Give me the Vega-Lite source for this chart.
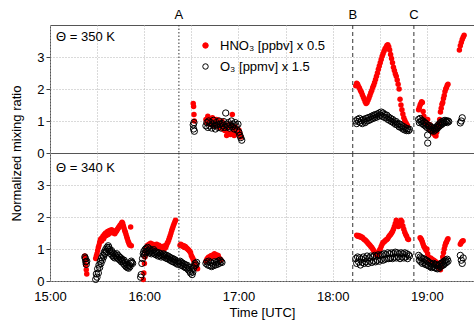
{
"$schema":"https://vega.github.io/schema/vega-lite/v6.json",
"padding":{"left":9,"top":8,"right":0,"bottom":0},
"bounds":"flush",
"spacing":0,
"config":{
 "font":"Liberation Sans",
 "view":{"stroke":"#555","strokeWidth":1},
 "axis":{"labelFontSize":13,"labelColor":"#000","titleFontSize":13,"titleFontWeight":"normal","titleColor":"#000","gridColor":"#b4b4b4","gridDash":[1,2],"domain":false,"tickColor":"#444","labelFlush":false,"labelOverlap":false},
 "text":{"font":"Liberation Sans","fontSize":13,"color":"#000"}
},
"datasets":{
"events":[{"t":16.368,"label":"A"},{"t":18.213,"label":"B"},{"t":18.862,"label":"C"}],
"top":[
{"t":16.520,"hno3":1.55,"o3":0.88},{"t":16.524,"hno3":1.45,"o3":0.75},{"t":16.528,"hno3":1.20,"o3":0.95},{"t":16.532,"hno3":1.00,"o3":0.68},
{"t":16.655,"hno3":1.05,"o3":0.85},{"t":16.665,"hno3":0.95,"o3":0.95},{"t":16.675,"hno3":1.15,"o3":0.80},{"t":16.685,"hno3":1.00,"o3":1.00},
{"t":16.695,"hno3":0.90,"o3":0.85},{"t":16.705,"hno3":1.05,"o3":0.95},{"t":16.715,"hno3":0.95,"o3":0.78},{"t":16.725,"hno3":1.10,"o3":0.90},
{"t":16.735,"hno3":0.85,"o3":1.02},{"t":16.745,"hno3":1.00,"o3":0.85},{"t":16.755,"hno3":0.92,"o3":0.75},{"t":16.765,"hno3":1.05,"o3":0.95},
{"t":16.775,"hno3":0.88,"o3":0.88},{"t":16.785,"hno3":1.02,"o3":0.80},{"t":16.795,"hno3":0.80,"o3":1.00},{"t":16.805,"hno3":0.95,"o3":0.90},
{"t":16.815,"hno3":0.85,"o3":0.78},{"t":16.825,"hno3":1.00,"o3":0.92},{"t":16.835,"hno3":0.75,"o3":0.85},{"t":16.845,"hno3":0.90,"o3":0.98},
{"t":16.855,"hno3":0.70,"o3":0.80},{"t":16.865,"hno3":0.85,"o3":1.25},{"t":16.875,"hno3":0.55,"o3":0.90},{"t":16.885,"hno3":0.80,"o3":0.82},
{"t":16.895,"hno3":0.62,"o3":0.95},{"t":16.905,"hno3":0.90,"o3":0.78},{"t":16.915,"hno3":0.58,"o3":0.88},{"t":16.925,"hno3":0.85,"o3":1.00},
{"t":16.935,"hno3":1.20,"o3":0.82},{"t":16.945,"hno3":0.70,"o3":0.90},{"t":16.955,"hno3":0.55,"o3":0.75},{"t":16.965,"hno3":0.82,"o3":0.95},
{"t":16.975,"hno3":0.65,"o3":0.85},{"t":16.985,"hno3":0.75,"o3":0.72},{"t":16.995,"hno3":0.60,"o3":0.90},{"t":17.005,"hno3":0.72,"o3":0.65},
{"t":17.015,"hno3":0.62,"o3":0.55},{"t":17.025,"hno3":0.50,"o3":0.48},{"t":17.035,"hno3":null,"o3":0.40},
{"t":18.245,"hno3":2.10,"o3":1.00},{"t":18.255,"hno3":2.18,"o3":0.92},{"t":18.265,"hno3":2.15,"o3":1.05},{"t":18.275,"hno3":2.08,"o3":0.98},
{"t":18.285,"hno3":2.02,"o3":1.08},{"t":18.295,"hno3":1.95,"o3":0.95},{"t":18.305,"hno3":1.90,"o3":1.02},{"t":18.315,"hno3":1.82,"o3":0.92},
{"t":18.325,"hno3":1.75,"o3":1.05},{"t":18.335,"hno3":1.68,"o3":1.00},{"t":18.345,"hno3":1.60,"o3":0.95},{"t":18.355,"hno3":1.55,"o3":1.08},
{"t":18.365,"hno3":1.58,"o3":1.00},{"t":18.375,"hno3":1.65,"o3":1.10},{"t":18.385,"hno3":1.72,"o3":1.02},{"t":18.395,"hno3":1.80,"o3":1.12},
{"t":18.405,"hno3":1.88,"o3":1.05},{"t":18.415,"hno3":1.95,"o3":1.15},{"t":18.425,"hno3":2.05,"o3":1.08},{"t":18.435,"hno3":2.12,"o3":1.18},
{"t":18.445,"hno3":2.20,"o3":1.10},{"t":18.455,"hno3":2.30,"o3":1.20},{"t":18.465,"hno3":2.40,"o3":1.12},{"t":18.475,"hno3":2.50,"o3":1.22},
{"t":18.485,"hno3":2.62,"o3":1.15},{"t":18.495,"hno3":2.72,"o3":1.25},{"t":18.505,"hno3":2.82,"o3":1.18},{"t":18.515,"hno3":2.92,"o3":1.28},
{"t":18.525,"hno3":3.02,"o3":1.15},{"t":18.535,"hno3":3.10,"o3":1.25},{"t":18.545,"hno3":3.18,"o3":1.12},{"t":18.555,"hno3":3.25,"o3":1.20},
{"t":18.565,"hno3":3.30,"o3":1.10},{"t":18.575,"hno3":3.36,"o3":1.18},{"t":18.585,"hno3":3.38,"o3":1.05},{"t":18.595,"hno3":3.32,"o3":1.12},
{"t":18.605,"hno3":3.22,"o3":1.02},{"t":18.615,"hno3":3.08,"o3":1.08},{"t":18.625,"hno3":2.95,"o3":0.98},{"t":18.635,"hno3":2.82,"o3":1.05},
{"t":18.645,"hno3":2.68,"o3":0.95},{"t":18.655,"hno3":2.58,"o3":1.00},{"t":18.665,"hno3":2.48,"o3":0.90},{"t":18.675,"hno3":2.40,"o3":0.98},
{"t":18.685,"hno3":2.28,"o3":0.88},{"t":18.695,"hno3":2.15,"o3":0.92},{"t":18.705,"hno3":2.00,"o3":0.82},{"t":18.715,"hno3":1.68,"o3":0.90},
{"t":18.725,"hno3":1.50,"o3":0.80},{"t":18.735,"hno3":1.35,"o3":0.85},{"t":18.745,"hno3":1.22,"o3":0.75},{"t":18.755,"hno3":1.10,"o3":0.82},
{"t":18.765,"hno3":1.02,"o3":0.72},{"t":18.775,"hno3":0.95,"o3":0.78},{"t":18.785,"hno3":0.90,"o3":0.70},{"t":18.795,"hno3":0.85,"o3":0.76},
{"t":18.805,"hno3":null,"o3":0.70},{"t":18.815,"hno3":null,"o3":0.74},
{"t":18.912,"hno3":1.35,"o3":1.05},{"t":18.920,"hno3":1.42,"o3":0.95},{"t":18.928,"hno3":1.50,"o3":1.08},{"t":18.936,"hno3":1.55,"o3":0.98},
{"t":18.944,"hno3":1.60,"o3":1.02},{"t":18.952,"hno3":1.58,"o3":0.92},{"t":18.960,"hno3":1.30,"o3":1.00},{"t":18.968,"hno3":1.15,"o3":0.88},
{"t":18.976,"hno3":1.05,"o3":0.95},{"t":18.984,"hno3":0.95,"o3":0.85},{"t":18.992,"hno3":1.00,"o3":0.92},{"t":19.000,"hno3":0.90,"o3":0.80},
{"t":19.008,"hno3":1.05,"o3":0.56},{"t":19.009,"hno3":null,"o3":0.31},{"t":19.016,"hno3":0.85,"o3":0.85},{"t":19.024,"hno3":0.78,"o3":0.75},
{"t":19.032,"hno3":0.88,"o3":0.85},{"t":19.040,"hno3":0.70,"o3":0.72},{"t":19.048,"hno3":0.82,"o3":0.80},{"t":19.056,"hno3":0.65,"o3":0.70},
{"t":19.064,"hno3":0.75,"o3":0.78},{"t":19.072,"hno3":0.60,"o3":0.68},{"t":19.080,"hno3":0.70,"o3":0.76},{"t":19.088,"hno3":0.55,"o3":0.72},
{"t":19.096,"hno3":0.53,"o3":0.80},{"t":19.104,"hno3":0.65,"o3":0.75},{"t":19.112,"hno3":0.78,"o3":0.85},{"t":19.120,"hno3":0.90,"o3":0.80},
{"t":19.128,"hno3":0.82,"o3":0.90},{"t":19.136,"hno3":1.05,"o3":0.85},{"t":19.144,"hno3":1.28,"o3":0.95},{"t":19.152,"hno3":1.40,"o3":0.88},
{"t":19.160,"hno3":1.52,"o3":0.98},{"t":19.168,"hno3":1.58,"o3":0.92},{"t":19.176,"hno3":1.70,"o3":1.00},{"t":19.184,"hno3":1.80,"o3":0.95},
{"t":19.192,"hno3":1.92,"o3":1.02},{"t":19.200,"hno3":2.00,"o3":0.98},{"t":19.208,"hno3":2.05,"o3":1.00},{"t":19.216,"hno3":2.12,"o3":0.95},
{"t":19.224,"hno3":2.15,"o3":1.00},{"t":19.232,"hno3":null,"o3":0.98},
{"t":19.345,"hno3":3.22,"o3":null},{"t":19.355,"hno3":3.35,"o3":0.94},{"t":19.365,"hno3":3.45,"o3":1.00},{"t":19.375,"hno3":3.55,"o3":1.10},
{"t":19.385,"hno3":3.62,"o3":null},{"t":19.395,"hno3":3.68,"o3":null}
],
"bottom":[
{"t":15.370,"hno3":0.78,"o3":0.75},{"t":15.375,"hno3":0.65,"o3":0.70},{"t":15.380,"hno3":0.50,"o3":0.60},{"t":15.385,"hno3":0.35,"o3":0.52},{"t":15.390,"hno3":0.22,"o3":0.62},
{"t":15.485,"hno3":0.70,"o3":0.05},{"t":15.492,"hno3":0.78,"o3":0.22},{"t":15.499,"hno3":0.85,"o3":0.12},{"t":15.506,"hno3":0.95,"o3":0.38},
{"t":15.513,"hno3":1.05,"o3":0.25},{"t":15.520,"hno3":1.12,"o3":0.50},{"t":15.527,"hno3":1.20,"o3":0.42},{"t":15.534,"hno3":1.28,"o3":0.62},
{"t":15.541,"hno3":1.32,"o3":0.55},{"t":15.548,"hno3":1.25,"o3":0.72},{"t":15.555,"hno3":1.35,"o3":0.65},{"t":15.562,"hno3":1.40,"o3":0.80},
{"t":15.569,"hno3":1.32,"o3":0.75},{"t":15.576,"hno3":1.45,"o3":0.90},{"t":15.583,"hno3":1.40,"o3":0.85},{"t":15.590,"hno3":1.50,"o3":0.98},
{"t":15.597,"hno3":1.42,"o3":0.92},{"t":15.604,"hno3":1.48,"o3":1.05},{"t":15.611,"hno3":1.55,"o3":1.00},{"t":15.618,"hno3":1.45,"o3":1.10},
{"t":15.625,"hno3":1.52,"o3":1.05},{"t":15.632,"hno3":1.58,"o3":0.98},{"t":15.639,"hno3":1.50,"o3":0.92},{"t":15.646,"hno3":1.55,"o3":0.85},
{"t":15.653,"hno3":1.60,"o3":0.95},{"t":15.660,"hno3":1.52,"o3":0.80},{"t":15.667,"hno3":1.58,"o3":0.88},{"t":15.674,"hno3":1.50,"o3":0.75},
{"t":15.681,"hno3":1.55,"o3":0.85},{"t":15.688,"hno3":1.48,"o3":0.72},{"t":15.695,"hno3":1.52,"o3":0.80},{"t":15.702,"hno3":1.55,"o3":0.75},
{"t":15.709,"hno3":1.58,"o3":0.85},{"t":15.716,"hno3":1.62,"o3":0.72},{"t":15.723,"hno3":1.65,"o3":0.80},{"t":15.730,"hno3":1.68,"o3":0.68},
{"t":15.737,"hno3":1.70,"o3":0.75},{"t":15.744,"hno3":1.74,"o3":0.65},{"t":15.751,"hno3":1.76,"o3":0.72},{"t":15.758,"hno3":1.80,"o3":0.60},
{"t":15.765,"hno3":1.84,"o3":0.68},{"t":15.772,"hno3":1.80,"o3":0.62},{"t":15.779,"hno3":1.72,"o3":0.55},{"t":15.786,"hno3":1.65,"o3":0.65},
{"t":15.793,"hno3":1.58,"o3":0.50},{"t":15.800,"hno3":1.52,"o3":0.58},{"t":15.807,"hno3":1.45,"o3":0.45},{"t":15.814,"hno3":1.38,"o3":0.52},
{"t":15.821,"hno3":1.32,"o3":0.42},{"t":15.828,"hno3":1.25,"o3":0.48},{"t":15.835,"hno3":1.20,"o3":0.40},{"t":15.842,"hno3":1.15,"o3":0.50},
{"t":15.849,"hno3":1.12,"o3":0.45},{"t":15.856,"hno3":1.69,"o3":0.55},{"t":15.863,"hno3":1.10,"o3":0.62},{"t":15.870,"hno3":null,"o3":0.58},
{"t":15.877,"hno3":null,"o3":0.55},
{"t":15.962,"hno3":null,"o3":0.12},{"t":15.968,"hno3":null,"o3":0.20},{"t":15.975,"hno3":null,"o3":0.55},{"t":15.982,"hno3":null,"o3":0.70},
{"t":15.990,"hno3":0.05,"o3":0.85},{"t":15.996,"hno3":0.25,"o3":0.92},{"t":16.002,"hno3":0.55,"o3":0.80},{"t":16.008,"hno3":0.75,"o3":0.98},
{"t":16.014,"hno3":0.92,"o3":0.88},{"t":16.020,"hno3":1.00,"o3":1.02},{"t":16.028,"hno3":1.08,"o3":0.92},{"t":16.036,"hno3":1.12,"o3":1.05},
{"t":16.044,"hno3":1.05,"o3":0.95},{"t":16.052,"hno3":1.15,"o3":0.88},{"t":16.060,"hno3":1.10,"o3":1.00},{"t":16.068,"hno3":1.18,"o3":0.92},
{"t":16.076,"hno3":1.12,"o3":0.85},{"t":16.084,"hno3":1.05,"o3":0.95},{"t":16.092,"hno3":1.15,"o3":0.88},{"t":16.100,"hno3":1.10,"o3":0.98},
{"t":16.108,"hno3":1.02,"o3":0.85},{"t":16.116,"hno3":1.12,"o3":0.92},{"t":16.124,"hno3":1.08,"o3":0.82},{"t":16.132,"hno3":1.15,"o3":0.90},
{"t":16.140,"hno3":1.05,"o3":0.85},{"t":16.148,"hno3":1.10,"o3":0.78},{"t":16.156,"hno3":1.12,"o3":0.88},{"t":16.164,"hno3":1.02,"o3":0.80},
{"t":16.172,"hno3":1.08,"o3":0.85},{"t":16.180,"hno3":1.05,"o3":0.75},{"t":16.188,"hno3":1.00,"o3":0.82},{"t":16.196,"hno3":1.08,"o3":0.78},
{"t":16.204,"hno3":1.05,"o3":0.85},{"t":16.212,"hno3":1.00,"o3":0.75},{"t":16.220,"hno3":1.10,"o3":0.82},{"t":16.228,"hno3":1.05,"o3":0.72},
{"t":16.236,"hno3":1.12,"o3":0.80},{"t":16.244,"hno3":1.18,"o3":0.70},{"t":16.252,"hno3":1.22,"o3":0.78},{"t":16.260,"hno3":1.28,"o3":0.68},
{"t":16.268,"hno3":1.35,"o3":0.75},{"t":16.276,"hno3":1.42,"o3":0.65},{"t":16.284,"hno3":1.50,"o3":0.72},{"t":16.292,"hno3":1.58,"o3":0.62},
{"t":16.300,"hno3":1.65,"o3":0.70},{"t":16.308,"hno3":1.72,"o3":0.60},{"t":16.316,"hno3":1.78,"o3":0.68},{"t":16.324,"hno3":1.84,"o3":0.58},
{"t":16.332,"hno3":1.90,"o3":0.65},{"t":16.340,"hno3":null,"o3":0.55},{"t":16.348,"hno3":null,"o3":0.62},{"t":16.356,"hno3":null,"o3":0.52},
{"t":16.364,"hno3":null,"o3":0.60},{"t":16.372,"hno3":null,"o3":0.55},{"t":16.380,"hno3":1.12,"o3":0.62},{"t":16.388,"hno3":1.15,"o3":0.50},
{"t":16.396,"hno3":1.10,"o3":0.58},{"t":16.404,"hno3":1.12,"o3":0.48},{"t":16.412,"hno3":1.08,"o3":0.55},{"t":16.420,"hno3":1.10,"o3":0.45},
{"t":16.428,"hno3":1.05,"o3":0.52},{"t":16.436,"hno3":1.08,"o3":0.42},{"t":16.444,"hno3":1.05,"o3":0.50},{"t":16.452,"hno3":1.02,"o3":0.40},
{"t":16.460,"hno3":1.00,"o3":0.48},{"t":16.468,"hno3":0.98,"o3":0.35},{"t":16.476,"hno3":0.95,"o3":0.42},{"t":16.484,"hno3":0.92,"o3":0.30},
{"t":16.492,"hno3":0.88,"o3":0.25},{"t":16.500,"hno3":0.80,"o3":0.35},{"t":16.508,"hno3":0.75,"o3":0.20},{"t":16.516,"hno3":0.70,"o3":0.28},
{"t":16.524,"hno3":0.65,"o3":0.40},{"t":16.532,"hno3":0.58,"o3":0.48},{"t":16.540,"hno3":0.54,"o3":0.55},{"t":16.548,"hno3":0.45,"o3":0.50},
{"t":16.556,"hno3":0.42,"o3":0.58},{"t":16.566,"hno3":0.38,"o3":null},
{"t":16.655,"hno3":0.62,"o3":0.55},{"t":16.665,"hno3":0.68,"o3":0.60},{"t":16.675,"hno3":0.72,"o3":0.50},{"t":16.685,"hno3":0.75,"o3":0.62},
{"t":16.695,"hno3":0.70,"o3":0.48},{"t":16.705,"hno3":0.78,"o3":0.58},{"t":16.715,"hno3":0.80,"o3":0.45},{"t":16.725,"hno3":0.75,"o3":0.55},
{"t":16.735,"hno3":0.82,"o3":0.48},{"t":16.745,"hno3":0.85,"o3":0.60},{"t":16.755,"hno3":0.78,"o3":0.50},{"t":16.765,"hno3":0.82,"o3":0.58},
{"t":16.775,"hno3":0.75,"o3":0.52},{"t":16.785,"hno3":0.80,"o3":0.62},{"t":16.795,"hno3":0.72,"o3":0.55},{"t":16.805,"hno3":0.68,"o3":0.65},
{"t":16.815,"hno3":0.65,"o3":0.60},{"t":16.825,"hno3":null,"o3":0.58},
{"t":18.245,"hno3":null,"o3":0.70},{"t":18.255,"hno3":1.43,"o3":0.55},{"t":18.265,"hno3":1.40,"o3":0.75},{"t":18.275,"hno3":1.42,"o3":0.60},
{"t":18.285,"hno3":1.38,"o3":0.72},{"t":18.295,"hno3":1.40,"o3":0.50},{"t":18.305,"hno3":1.36,"o3":0.68},{"t":18.315,"hno3":1.37,"o3":0.58},
{"t":18.325,"hno3":1.33,"o3":0.75},{"t":18.335,"hno3":1.30,"o3":0.55},{"t":18.345,"hno3":1.28,"o3":0.70},{"t":18.355,"hno3":1.25,"o3":0.60},
{"t":18.365,"hno3":1.22,"o3":0.78},{"t":18.375,"hno3":1.18,"o3":0.55},{"t":18.385,"hno3":1.15,"o3":0.72},{"t":18.395,"hno3":1.12,"o3":0.62},
{"t":18.405,"hno3":1.08,"o3":0.78},{"t":18.415,"hno3":1.05,"o3":0.58},{"t":18.425,"hno3":1.00,"o3":0.75},{"t":18.435,"hno3":0.95,"o3":0.62},
{"t":18.445,"hno3":0.90,"o3":0.80},{"t":18.455,"hno3":0.85,"o3":0.60},{"t":18.465,"hno3":0.82,"o3":0.78},{"t":18.475,"hno3":0.80,"o3":0.65},
{"t":18.485,"hno3":0.88,"o3":0.82},{"t":18.495,"hno3":0.95,"o3":0.62},{"t":18.505,"hno3":1.00,"o3":0.80},{"t":18.515,"hno3":1.08,"o3":0.68},
{"t":18.525,"hno3":1.15,"o3":0.82},{"t":18.535,"hno3":1.20,"o3":0.65},{"t":18.545,"hno3":1.22,"o3":0.85},{"t":18.555,"hno3":1.25,"o3":0.68},
{"t":18.565,"hno3":1.28,"o3":0.82},{"t":18.575,"hno3":1.30,"o3":0.70},{"t":18.585,"hno3":1.33,"o3":0.88},{"t":18.595,"hno3":1.38,"o3":0.70},
{"t":18.605,"hno3":1.42,"o3":0.85},{"t":18.615,"hno3":1.45,"o3":0.72},{"t":18.625,"hno3":1.50,"o3":0.88},{"t":18.635,"hno3":1.55,"o3":0.70},
{"t":18.645,"hno3":1.62,"o3":0.85},{"t":18.655,"hno3":1.70,"o3":0.75},{"t":18.665,"hno3":1.80,"o3":0.90},{"t":18.675,"hno3":1.90,"o3":0.72},
{"t":18.685,"hno3":1.82,"o3":0.88},{"t":18.695,"hno3":1.70,"o3":0.75},{"t":18.705,"hno3":1.72,"o3":0.85},{"t":18.715,"hno3":1.80,"o3":0.70},
{"t":18.725,"hno3":1.90,"o3":0.88},{"t":18.735,"hno3":1.85,"o3":0.75},{"t":18.745,"hno3":1.72,"o3":0.85},{"t":18.755,"hno3":1.62,"o3":0.72},
{"t":18.765,"hno3":1.52,"o3":0.88},{"t":18.775,"hno3":1.45,"o3":0.75},{"t":18.785,"hno3":1.40,"o3":0.85},{"t":18.795,"hno3":1.32,"o3":0.70},
{"t":18.805,"hno3":1.30,"o3":0.82},{"t":18.815,"hno3":null,"o3":0.78},
{"t":18.912,"hno3":null,"o3":0.80},{"t":18.920,"hno3":null,"o3":0.65},{"t":18.928,"hno3":1.35,"o3":0.75},{"t":18.936,"hno3":1.32,"o3":0.60},
{"t":18.944,"hno3":1.28,"o3":0.72},{"t":18.952,"hno3":1.22,"o3":0.55},{"t":18.960,"hno3":1.15,"o3":0.70},{"t":18.968,"hno3":1.08,"o3":0.58},
{"t":18.976,"hno3":1.05,"o3":0.68},{"t":18.984,"hno3":1.00,"o3":0.52},{"t":18.992,"hno3":0.95,"o3":0.65},{"t":19.000,"hno3":1.00,"o3":0.50},
{"t":19.008,"hno3":0.85,"o3":0.62},{"t":19.016,"hno3":0.75,"o3":0.48},{"t":19.024,"hno3":0.70,"o3":0.58},{"t":19.032,"hno3":0.65,"o3":0.45},
{"t":19.040,"hno3":0.72,"o3":0.55},{"t":19.048,"hno3":0.62,"o3":0.42},{"t":19.056,"hno3":0.68,"o3":0.52},{"t":19.064,"hno3":0.58,"o3":0.45},
{"t":19.072,"hno3":0.65,"o3":0.55},{"t":19.080,"hno3":0.55,"o3":0.42},{"t":19.088,"hno3":0.62,"o3":0.52},{"t":19.096,"hno3":0.50,"o3":0.40},
{"t":19.104,"hno3":0.58,"o3":0.50},{"t":19.112,"hno3":0.45,"o3":0.38},{"t":19.120,"hno3":0.52,"o3":0.48},{"t":19.128,"hno3":0.42,"o3":0.40},
{"t":19.136,"hno3":0.38,"o3":0.52},{"t":19.144,"hno3":0.35,"o3":0.45},{"t":19.152,"hno3":0.45,"o3":0.55},{"t":19.160,"hno3":0.60,"o3":0.48},
{"t":19.168,"hno3":0.75,"o3":0.58},{"t":19.176,"hno3":0.88,"o3":0.50},{"t":19.184,"hno3":1.00,"o3":0.62},{"t":19.192,"hno3":1.10,"o3":0.55},
{"t":19.200,"hno3":1.18,"o3":0.65},{"t":19.208,"hno3":1.22,"o3":0.58},{"t":19.216,"hno3":1.28,"o3":0.68},{"t":19.224,"hno3":1.32,"o3":0.62},
{"t":19.355,"hno3":1.15,"o3":0.80},{"t":19.365,"hno3":1.20,"o3":0.65},{"t":19.375,"hno3":1.24,"o3":0.55},{"t":19.385,"hno3":1.26,"o3":0.72}
]
},
"vconcat":[
{
 "width":424,"height":128,
 "layer":[
  {"data":{"name":"top"},
   "mark":{"type":"point","filled":true,"size":30,"strokeWidth":0,"opacity":1},
   "encoding":{
    "x":{"field":"t","type":"quantitative","scale":{"domain":[15,19.5],"nice":false,"zero":false},
         "axis":{"values":[15,15.5,16,16.5,17,17.5,18,18.5,19,19.5],"labels":false,"ticks":false,"title":null,"grid":true}},
    "y":{"field":"hno3","type":"quantitative","scale":{"domain":[0,4],"nice":false},
         "axis":{"values":[0,1,2,3],"title":"Normalized mixing ratio","titleX":-34,"titleY":128,"titleAngle":-90,"titleAlign":"center","titleBaseline":"middle","grid":true,"tickSize":4,"labelPadding":2}},
    "fill":{"datum":"HNO₃ [ppbv] x 0.5","type":"nominal","scale":{"domain":["HNO₃ [ppbv] x 0.5","O₃ [ppmv] x 1.5"],"range":["#ff0000","transparent"]},
            "legend":{"title":null,"orient":"none","legendX":149,"legendY":14,"labelFontSize":13,"labelColor":"#000","symbolSize":30,"rowPadding":7,"labelOffset":8,"symbolStrokeWidth":1,"padding":0}},
    "stroke":{"datum":"HNO₃ [ppbv] x 0.5","type":"nominal","scale":{"domain":["HNO₃ [ppbv] x 0.5","O₃ [ppmv] x 1.5"],"range":["#ff0000","#000000"]},
            "legend":{"title":null,"orient":"none","legendX":149,"legendY":14,"labelFontSize":13,"labelColor":"#000","symbolSize":30,"rowPadding":7,"labelOffset":8,"symbolStrokeWidth":1,"padding":0}}
   }},
  {"data":{"name":"top"},
   "mark":{"type":"point","filled":false,"size":40,"strokeWidth":1,"opacity":1},
   "encoding":{
    "x":{"field":"t","type":"quantitative"},
    "y":{"field":"o3","type":"quantitative"},
    "fill":{"datum":"O₃ [ppmv] x 1.5","type":"nominal"},
    "stroke":{"datum":"O₃ [ppmv] x 1.5","type":"nominal"}
   }},
  {"data":{"name":"events"},
   "mark":{"type":"rule","color":"#333","strokeWidth":1},
   "encoding":{
    "x":{"field":"t","type":"quantitative"},
    "strokeDash":{"field":"label","type":"nominal","scale":{"domain":["A","B","C"],"range":[[1.5,2],[4,3],[4,3]]},"legend":null}
   }},
  {"data":{"name":"events"},
   "mark":{"type":"text","baseline":"bottom","dy":-3,"fontSize":13},
   "encoding":{
    "x":{"field":"t","type":"quantitative"},
    "y":{"datum":4,"type":"quantitative"},
    "text":{"field":"label"}
   }},
  {"data":{"values":[{"panel":"Θ = 350 K"}]},
   "mark":{"type":"text","align":"left","baseline":"alphabetic","fontSize":13},
   "encoding":{
    "x":{"datum":15.065,"type":"quantitative"},
    "y":{"datum":3.5,"type":"quantitative"},
    "text":{"field":"panel"}
   }}
 ]
},
{
 "width":424,"height":128,
 "layer":[
  {"data":{"name":"bottom"},
   "mark":{"type":"point","filled":true,"size":30,"strokeWidth":0,"opacity":1,"color":"#ff0000"},
   "encoding":{
    "x":{"field":"t","type":"quantitative","scale":{"domain":[15,19.5],"nice":false,"zero":false},
         "axis":{"values":[15,15.5,16,16.5,17,17.5,18,18.5,19,19.5],"labelExpr":"datum.value % 1 == 0 ? format(datum.value, 'd') + ':00' : ''","ticks":false,"labelPadding":9,"title":"Time [UTC]","titlePadding":3,"grid":true}},
    "y":{"field":"hno3","type":"quantitative","scale":{"domain":[0,4],"nice":false},
         "axis":{"values":[0,1,2,3],"title":null,"grid":true,"tickSize":4,"labelPadding":2}}
   }},
  {"data":{"name":"bottom"},
   "mark":{"type":"point","filled":false,"size":40,"strokeWidth":1,"opacity":1,"color":"#000000"},
   "encoding":{
    "x":{"field":"t","type":"quantitative"},
    "y":{"field":"o3","type":"quantitative"}
   }},
  {"data":{"name":"events"},
   "mark":{"type":"rule","color":"#333","strokeWidth":1},
   "encoding":{
    "x":{"field":"t","type":"quantitative"},
    "strokeDash":{"field":"label","type":"nominal","legend":null}
   }},
  {"data":{"values":[{"panel":"Θ = 340 K"}]},
   "mark":{"type":"text","align":"left","baseline":"alphabetic","fontSize":13},
   "encoding":{
    "x":{"datum":15.065,"type":"quantitative"},
    "y":{"datum":3.42,"type":"quantitative"},
    "text":{"field":"panel"}
   }}
 ]
}
]
}
